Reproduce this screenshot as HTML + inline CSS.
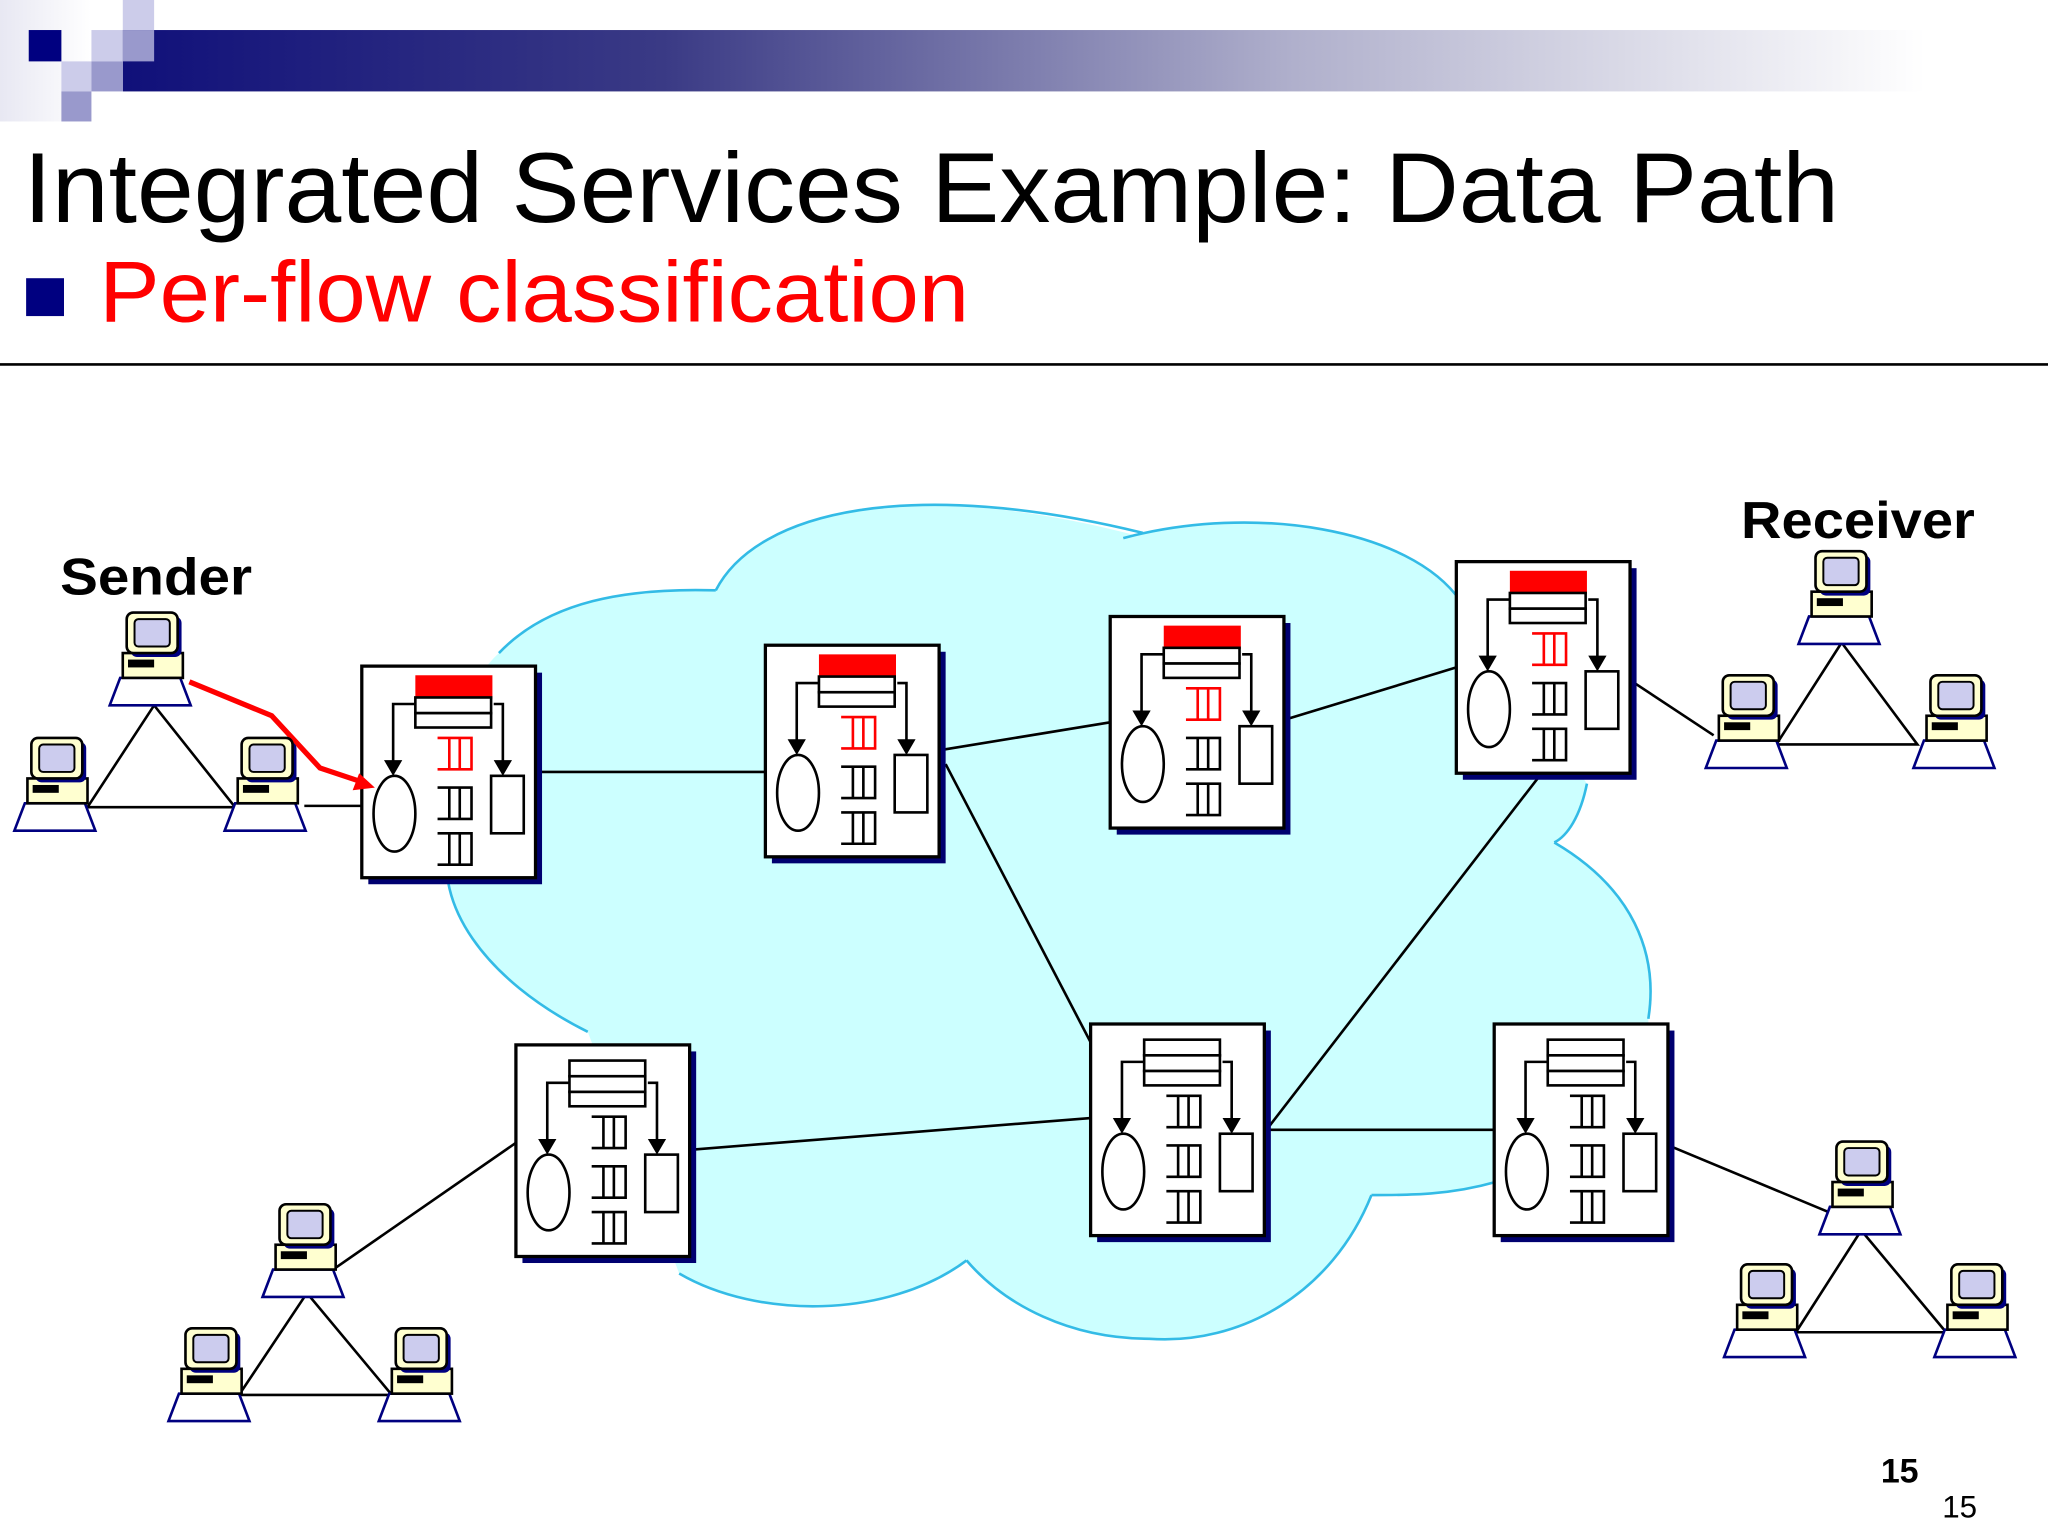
<!DOCTYPE html>
<html><head><meta charset="utf-8"><style>
html,body{margin:0;padding:0;background:#fff;}
svg{display:block;}
</style></head><body>
<svg width="2048" height="1536" viewBox="0 0 1568 1176" xmlns="http://www.w3.org/2000/svg" font-family="'Liberation Sans', Arial, sans-serif">
<defs>
<linearGradient id="bar" x1="0" x2="1" y1="0" y2="0">
<stop offset="0" stop-color="#10107a"/><stop offset="0.3" stop-color="#3a3a85"/><stop offset="0.65" stop-color="#b0b0cc"/><stop offset="1" stop-color="#ffffff"/>
</linearGradient>
<linearGradient id="lg" x1="0" x2="1"><stop offset="0" stop-color="#d8d8ea"/><stop offset="1" stop-color="#fff"/></linearGradient>
<g id="q" fill="none" stroke-width="2">
<path d="M58 0H84V24H58M67 0V24M75 0V24"/>
</g>
<g id="rbase">
<rect x="5" y="5" width="133" height="162" fill="#000070"/>
<rect x="0" y="0" width="133" height="162" fill="#fff" stroke="#000" stroke-width="2.5"/>
<path d="M41 29H24V74M101 29H108V74" fill="none" stroke="#000" stroke-width="2"/>
<path d="M17 72L31 72L24 84Z M101 72L115 72L108 84Z" fill="#000"/>
<ellipse cx="25" cy="113" rx="16" ry="29" fill="#fff" stroke="#000" stroke-width="2"/>
<rect x="99" y="84" width="25" height="44" fill="#fff" stroke="#000" stroke-width="2"/>
<use href="#q" y="93" stroke="#000"/>
<use href="#q" y="128" stroke="#000"/>
</g>
<g id="rred">
<use href="#rbase"/>
<rect x="41" y="7" width="59" height="18" fill="#f00"/>
<rect x="41" y="24" width="58" height="12" fill="#fff" stroke="#000" stroke-width="2"/>
<rect x="41" y="36" width="58" height="11" fill="#fff" stroke="#000" stroke-width="2"/>
<use href="#q" y="55" stroke="#f00"/>
</g>
<g id="rwhite">
<use href="#rbase"/>
<rect x="41" y="12" width="58" height="12" fill="#fff" stroke="#000" stroke-width="2"/>
<rect x="41" y="24" width="58" height="12" fill="#fff" stroke="#000" stroke-width="2"/>
<rect x="41" y="36" width="58" height="11" fill="#fff" stroke="#000" stroke-width="2"/>
<use href="#q" y="55" stroke="#000"/>
</g>
<g id="pc">
<path d="M-23 50H23L31 71H-31Z" fill="#fff" stroke="#000080" stroke-width="2"/>
<rect x="-21" y="31" width="46" height="19" fill="#ffffd0" stroke="#000" stroke-width="2"/>
<rect x="-17" y="36" width="20" height="6" fill="#000"/>
<rect x="-15" y="3" width="39" height="31" rx="5" fill="#000080"/>
<rect x="-18" y="0" width="39" height="31" rx="5" fill="#ffffd0" stroke="#000" stroke-width="2"/>
<rect x="-12" y="5" width="27" height="21" rx="3" fill="#ccccee" stroke="#000" stroke-width="1.5"/>
</g>
</defs>

<rect x="0" y="0" width="70" height="93" fill="url(#lg)" opacity="0.6"/>
<rect x="94" y="23" width="1380" height="47" fill="url(#bar)"/>
<rect x="22" y="23" width="25" height="24" fill="#000080"/>
<rect x="94" y="0" width="24" height="23" fill="#ccccea"/>
<rect x="70" y="23" width="24" height="24" fill="#ccccea"/>
<rect x="94" y="23" width="24" height="24" fill="#9999cc"/>
<rect x="47" y="47" width="23" height="23" fill="#ccccea"/>
<rect x="70" y="47" width="24" height="23" fill="#9999cc"/>
<rect x="47" y="70" width="23" height="23" fill="#9999cc"/>

<text x="18" y="170" font-size="76" fill="#000" textLength="1390" lengthAdjust="spacingAndGlyphs">Integrated Services Example: Data Path</text>
<rect x="20" y="213" width="29" height="29" fill="#000080"/>
<text x="76" y="246" font-size="66" fill="#f00" textLength="666" lengthAdjust="spacingAndGlyphs">Per-flow classification</text>
<line x1="0" y1="279" x2="1568" y2="279" stroke="#000" stroke-width="2"/>

<path d="M382 500 C420 460 480 450 548 452 C580 390 700 365 870 410 C960 385 1080 405 1118 460 L1215 600 C1210 625 1200 640 1190 645 C1250 680 1270 730 1262 780 L1262 900 L1145 905 C1110 915 1080 915 1050 915 C1020 990 950 1030 880 1025 C820 1025 770 1000 740 965 C680 1010 580 1010 520 975 L450 790 C370 750 330 690 345 640 C340 580 350 530 382 500 Z" fill="#ccffff" stroke="none"/>
<path d="M382 500 C420 460 480 450 548 452 M548 452 C580 390 700 365 875 408 M860 412 C960 385 1080 405 1118 460 M1215 600 C1210 625 1200 640 1190 645 M1190 645 C1250 680 1270 730 1262 780 M1145 905 C1110 915 1080 915 1050 915 M1050 915 C1020 990 950 1030 880 1025 C820 1025 770 1000 740 965 M740 965 C680 1010 580 1010 520 975 M450 790 C370 750 330 690 345 640" fill="none" stroke="#33bbe6" stroke-width="2"/>

<g stroke="#000" stroke-width="2" fill="none">
<line x1="412" y1="591" x2="586" y2="591"/>
<line x1="722" y1="574" x2="850" y2="553"/>
<line x1="987" y1="550" x2="1115" y2="511"/>
<line x1="724" y1="585" x2="835" y2="798"/>
<line x1="1178" y1="595" x2="972" y2="862"/>
<line x1="972" y1="865" x2="1144" y2="865"/>
<line x1="532" y1="880" x2="835" y2="856"/>
<line x1="233" y1="617" x2="277" y2="617"/>
<line x1="1250" y1="522" x2="1312" y2="563"/>
<line x1="255" y1="972" x2="395" y2="875"/>
<line x1="1280" y1="878" x2="1400" y2="928"/>
<path d="M118 540 L67 618 L180 618 Z"/>
<path d="M1410 492 L1360 570 L1468 570 Z"/>
<path d="M235 990 L183 1068 L300 1068 Z"/>
<path d="M1425 942 L1375 1020 L1490 1020 Z"/>
</g>

<use href="#rred" x="277" y="510"/>
<use href="#rred" x="586" y="494"/>
<use href="#rred" x="850" y="472"/>
<use href="#rred" x="1115" y="430"/>
<use href="#rwhite" x="395" y="800"/>
<use href="#rwhite" x="835" y="784"/>
<use href="#rwhite" x="1144" y="784"/>

<path d="M145 522 L208 548 L245 588 L275 598" fill="none" stroke="#f00" stroke-width="4"/>
<path d="M287 603 L270 605 L275 592 Z" fill="#f00"/>

<use href="#pc" x="115" y="469"/>
<use href="#pc" x="42" y="565"/>
<use href="#pc" x="203" y="565"/>
<use href="#pc" x="1408" y="422"/>
<use href="#pc" x="1337" y="517"/>
<use href="#pc" x="1496" y="517"/>
<use href="#pc" x="232" y="922"/>
<use href="#pc" x="160" y="1017"/>
<use href="#pc" x="321" y="1017"/>
<use href="#pc" x="1424" y="874"/>
<use href="#pc" x="1351" y="968"/>
<use href="#pc" x="1512" y="968"/>

<text x="46" y="455" font-size="40" font-weight="bold" textLength="147" lengthAdjust="spacingAndGlyphs">Sender</text>
<text x="1333" y="412" font-size="40" font-weight="bold" textLength="179" lengthAdjust="spacingAndGlyphs">Receiver</text>
<text x="1440" y="1135" font-size="26" font-weight="bold">15</text>
<text x="1487" y="1162" font-size="24">15</text>
</svg>
</body></html>
